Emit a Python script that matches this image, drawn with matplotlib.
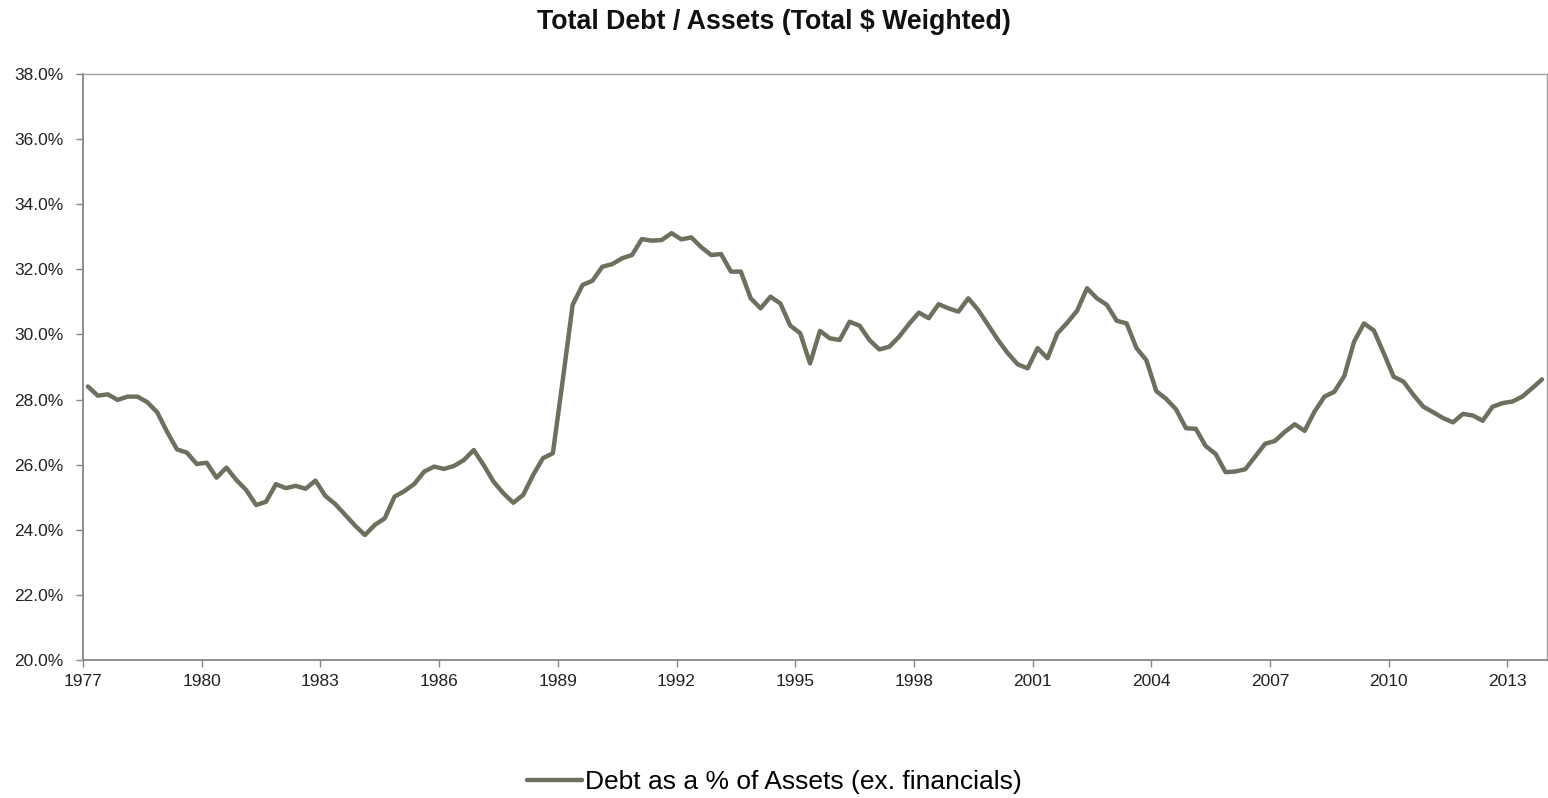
import matplotlib
matplotlib.use("Agg")
import matplotlib.pyplot as plt
from matplotlib.ticker import FixedLocator, FuncFormatter

# Quarterly debt-to-assets ratio (%), non-financial companies, 1977 Q1 - 2013 Q4
debt_to_assets = [
    28.40, 28.12, 28.16, 27.99, 28.09, 28.09, 27.92, 27.61, 27.01, 26.47,
    26.37, 26.02, 26.06, 25.60, 25.91, 25.53, 25.22, 24.76, 24.86, 25.40,
    25.28, 25.35, 25.26, 25.51, 25.04, 24.79, 24.46, 24.13, 23.84, 24.15,
    24.35, 25.02, 25.19, 25.41, 25.79, 25.94, 25.87, 25.96, 26.14, 26.45,
    25.99, 25.48, 25.12, 24.83, 25.07, 25.68, 26.20, 26.35, 28.60, 30.91,
    31.52, 31.65, 32.08, 32.16, 32.34, 32.44, 32.93, 32.88, 32.90, 33.11,
    32.92, 32.98, 32.68, 32.44, 32.47, 31.93, 31.93, 31.11, 30.80, 31.16,
    30.95, 30.27, 30.04, 29.11, 30.11, 29.88, 29.83, 30.39, 30.27, 29.83,
    29.54, 29.62, 29.93, 30.32, 30.67, 30.50, 30.93, 30.80, 30.70, 31.11,
    30.75, 30.29, 29.83, 29.42, 29.08, 28.96, 29.58, 29.27, 30.03, 30.36,
    30.73, 31.42, 31.11, 30.91, 30.42, 30.34, 29.58, 29.21, 28.26, 28.02,
    27.70, 27.12, 27.10, 26.57, 26.33, 25.77, 25.79, 25.86, 26.25, 26.64,
    26.73, 27.01, 27.24, 27.04, 27.63, 28.09, 28.24, 28.72, 29.78, 30.34,
    30.12, 29.42, 28.70, 28.55, 28.14, 27.78, 27.61, 27.43, 27.30, 27.56,
    27.51, 27.35, 27.78, 27.89, 27.94, 28.09, 28.35, 28.62,
]
first_year = 1977
year_ticks = list(range(1977, 2014, 3))
pct_ticks = [20, 22, 24, 26, 28, 30, 32, 34, 36, 38]

title = "Total Debt / Assets (Total $ Weighted)"
series_label = "Debt as a % of Assets (ex. financials)"

# each quarter is plotted at its midpoint
quarters = [first_year + 0.125 + 0.25 * i for i in range(len(debt_to_assets))]

plt.rcParams["font.family"] = ["Liberation Sans", "DejaVu Sans"]

fig = plt.figure(figsize=(15.48, 7.98), dpi=100)
ax = fig.add_axes([83 / 1548, 1 - 660 / 798, (1547 - 83) / 1548, (660 - 74) / 798])

line_color = "#6d705e"
ax.plot(quarters, debt_to_assets, color=line_color, lw=3.2,
        solid_joinstyle="round", solid_capstyle="round", label=series_label)

ax.set_xlim(1977, 2014)
ax.set_ylim(20, 38)
ax.xaxis.set_major_locator(FixedLocator(year_ticks))
ax.yaxis.set_major_locator(FixedLocator(pct_ticks))
ax.yaxis.set_major_formatter(FuncFormatter(lambda v, _: f"{v:.1f}%"))

for side in ("left", "bottom"):
    ax.spines[side].set_color("#868686")
    ax.spines[side].set_linewidth(1.3)
for side in ("top", "right"):
    ax.spines[side].set_color("#a0a0a0")
    ax.spines[side].set_linewidth(1.0)

ax.tick_params(axis="both", direction="out", width=1.0,
               color="#868686", labelsize=12.5, labelcolor="#222222")
ax.tick_params(axis="x", length=5, pad=5)
ax.tick_params(axis="y", length=5, pad=9)

fig.text(0.5, 1 - 22 / 798, title, ha="center", va="center",
         fontsize=19.3, fontweight="bold", color="#111111")

leg = fig.legend(loc="center", bbox_to_anchor=(0.5, 1 - 782 / 798), frameon=False,
                 fontsize=19, handlelength=2.1, handletextpad=0.1)

fig.savefig("out.png", dpi=100, facecolor="white")
